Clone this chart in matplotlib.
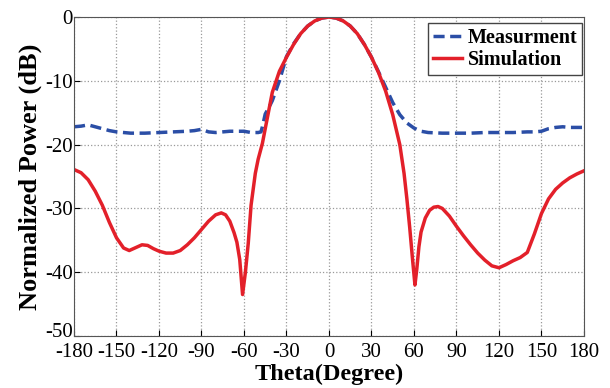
import matplotlib
matplotlib.use('Agg')
import matplotlib.pyplot as plt
from matplotlib.transforms import ScaledTranslation

plt.rcParams['font.family'] = 'Liberation Serif'
plt.rcParams['axes.unicode_minus'] = False

# Measurement (blue dashed)
meas_theta = [-180, -175, -170, -165, -160, -155, -150, -140, -130, -120, -110, -100, -95, -90,
              -85, -80, -70, -60, -55, -50, -48, -47, -45, -42, -40, -35, -30, -25, -20, -15,
              -10, -5, 0, 5, 10, 15, 20, 25, 30, 35, 40, 45, 50, 55, 60, 65, 70, 80, 90, 100,
              110, 120, 130, 140, 145, 150, 155, 160, 165, 170, 180]
meas_db = [-17.2, -17.1, -16.9, -17.2, -17.5, -17.8, -18.0, -18.2, -18.2, -18.1, -18.0, -17.9,
           -17.8, -17.6, -18.0, -18.1, -17.9, -17.9, -18.1, -18.1, -18.0, -17.2, -15.2, -14.0,
           -13.1, -10.0, -6.2, -4.2, -2.6, -1.4, -0.6, -0.15, 0.0, -0.15, -0.6, -1.4, -2.6,
           -4.3, -6.3, -8.6, -11.0, -13.4, -15.3, -16.6, -17.4, -17.9, -18.1, -18.2, -18.2,
           -18.2, -18.1, -18.1, -18.1, -18.0, -18.0, -17.9, -17.5, -17.3, -17.2, -17.3, -17.3]

# Simulation (red solid)
sim_theta = [-180, -175, -170, -165, -160, -155, -150, -145, -141, -137, -132, -128, -124, -120,
             -115, -110, -105, -100, -95, -90, -85, -80, -76, -73, -70, -67, -65, -63, -61, -59,
             -57, -55, -52, -50, -47, -45, -40, -35, -30, -25, -20, -15, -10, -5, 0, 5, 10, 15,
             20, 25, 30, 35, 40, 45, 50, 53, 55, 57, 59, 60.7, 62, 63.5, 65, 68, 71, 74, 77, 80,
             85, 90, 95, 100, 105, 110, 115, 120, 125, 130, 135, 140, 145, 150, 155, 160, 165,
             170, 175, 180]
sim_db = [-23.9, -24.4, -25.5, -27.3, -29.5, -32.2, -34.6, -36.2, -36.6, -36.2, -35.7, -35.8,
          -36.3, -36.7, -37.0, -37.0, -36.6, -35.7, -34.6, -33.3, -32.0, -31.0, -30.7, -31.0,
          -32.0, -33.8, -35.3, -38.0, -43.5, -40.0, -35.5, -29.5, -24.5, -22.3, -19.8, -17.5,
          -11.8, -8.5, -6.3, -4.3, -2.6, -1.4, -0.6, -0.15, 0.0, -0.15, -0.6, -1.4, -2.6, -4.3,
          -6.3, -8.7, -11.6, -15.3, -20.0, -24.5, -28.5, -33.0, -38.0, -42.0, -39.5, -36.0,
          -33.7, -31.5, -30.3, -29.8, -29.7, -30.0, -31.2, -32.8, -34.3, -35.7, -37.0, -38.1,
          -39.0, -39.3, -38.8, -38.2, -37.7, -36.9, -34.0, -30.8, -28.5, -27.0, -26.0, -25.2,
          -24.6, -24.1]

x_ticks = list(range(-180, 181, 30))
y_ticks = [0, -10, -20, -30, -40, -50]

fig = plt.figure(figsize=(6.1, 3.88), dpi=100)
ax = fig.add_axes([0.1213, 0.134, 0.836, 0.822])

ax.plot(meas_theta, meas_db, '--', color='#2b4ea6', lw=2.5, dashes=(3.2, 1.6), label='Measurment')
ax.plot(sim_theta, sim_db, '-', color='#e3202a', lw=2.5, label='Simulation')

ax.set_xlim(-180, 180)
ax.set_ylim(-50, 0)
ax.set_xticks(x_ticks)
ax.set_yticks(y_ticks)
ax.tick_params(direction='in', labelsize=15, length=4)
ax.tick_params(axis='x', pad=5)
ax.tick_params(axis='y', pad=1)
ax.grid(True, linestyle=':', color='#999999', lw=0.9)
for s in ax.spines.values():
    s.set_color('#555555')

# lift the bottom y label a little so it doesn't sit on "-180"
fig.canvas.draw()
low = ax.get_yticklabels()[-1]
low.set_transform(low.get_transform() + ScaledTranslation(0, 4 / 72, fig.dpi_scale_trans))

ax.set_xlabel('Theta(Degree)', fontsize=17.5, fontweight='bold', labelpad=1)
ax.set_ylabel('Normalized Power (dB)', fontsize=19, fontweight='bold', labelpad=2)

leg = ax.legend(loc='upper right', bbox_to_anchor=(0.997, 0.982),
                prop={'weight': 'bold', 'size': 14.5}, fancybox=False,
                framealpha=1, edgecolor='#444444', borderpad=0.25, labelspacing=0.1,
                handlelength=1.4, handletextpad=0.3, borderaxespad=0)

fig.savefig('out.png', dpi=100)
